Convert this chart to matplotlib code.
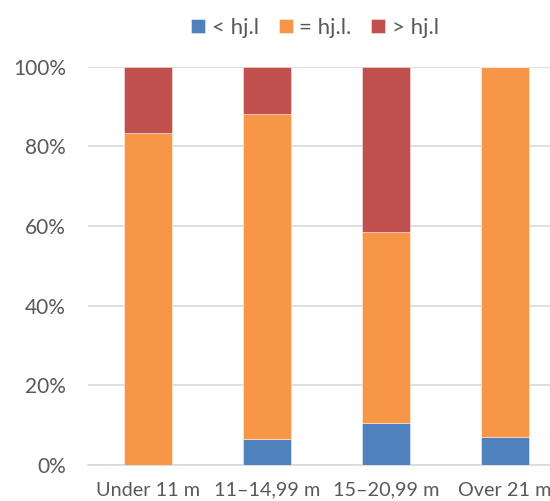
import matplotlib
matplotlib.use("Agg")
import matplotlib.pyplot as plt
import numpy as np
from matplotlib.ticker import FuncFormatter

plt.rcParams['font.family'] = ['Lato', 'DejaVu Sans']

categories = ["Under 11 m", "11\u201314,99 m", "15\u201320,99 m", "Over 21 m"]
series_names = ["< hj.l", "= hj.l.", "> hj.l"]
below = [0.0, 6.4, 10.6, 7.0]
equal = [83.3, 81.6, 47.9, 93.0]
above = [16.7, 12.0, 41.5, 0.0]
colors = ["#4F81BD", "#F79646", "#C0504D"]
yticks = [0, 20, 40, 60, 80, 100]

fig = plt.figure(figsize=(5.5, 5.01), dpi=100)
# plot area runs slightly past the right edge of the canvas
ax = fig.add_axes([0.1605, 0.072, 0.8655, 0.795])

x = np.arange(len(categories))
bottom = np.zeros(len(categories))
for name, vals, col in zip(series_names, [below, equal, above], colors):
    vals = np.array(vals)
    ax.bar(x, vals, width=0.4, bottom=bottom, color=col, label=name,
           edgecolor=(1, 1, 1, 0.5), linewidth=0.6, zorder=3)
    bottom += vals

ax.set_xlim(-0.5, len(categories) - 0.5)
ax.set_ylim(0, 100)
ax.set_yticks(yticks)
ax.yaxis.set_major_formatter(FuncFormatter(lambda v, p: f"{v:.0f}%"))
ax.set_xticks(x)
ax.set_xticklabels(categories)
ax.grid(axis='y', color='#D9D9D9', linewidth=1.2, zorder=0)
for s in ['top', 'right', 'left']:
    ax.spines[s].set_visible(False)
ax.spines['bottom'].set_color('#D9D9D9')
ax.spines['bottom'].set_linewidth(1.2)
ax.tick_params(axis='both', length=0, colors='#595959', labelsize=15)
ax.tick_params(axis='x', pad=12, labelsize=14.3)
ax.tick_params(axis='y', pad=16)

leg = fig.legend(loc='center', bbox_to_anchor=(0.573, 0.944), ncol=3, frameon=False,
                 fontsize=16, handlelength=0.62, handleheight=0.62,
                 handletextpad=0.3, columnspacing=0.9)
for t in leg.get_texts():
    t.set_color('#595959')

fig.savefig("out.png", dpi=100)
